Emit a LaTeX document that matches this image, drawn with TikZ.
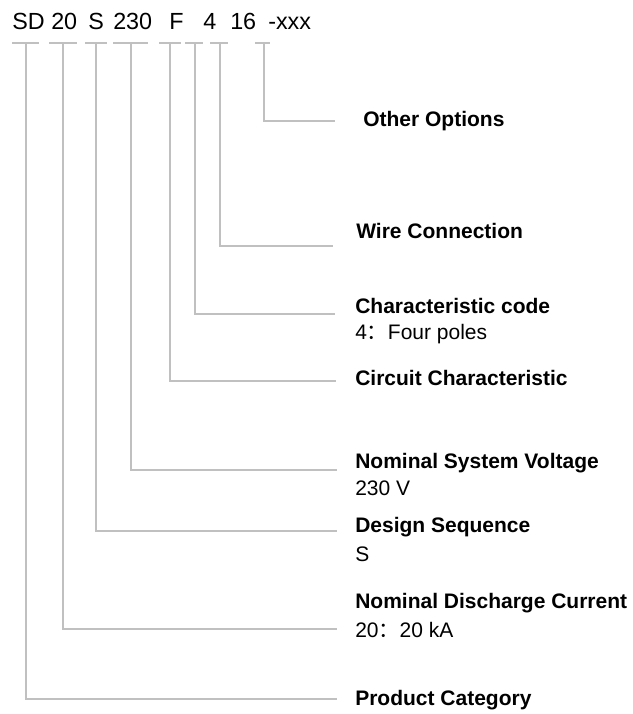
\documentclass[tikz,border=0pt]{standalone}
\usepackage{fontspec}
\setmainfont{Liberation Sans}
\newfontfamily\cjk{Noto Sans CJK SC}
\usetikzlibrary{positioning,calc}
\definecolor{leadgray}{RGB}{192,192,192}
\tikzset{
  code/.style={anchor=base west, inner sep=0pt, font=\fontsize{17.5}{20}\selectfont},
  head/.style={anchor=west, inner sep=0pt, font=\bfseries\fontsize{15.75}{18}\selectfont},
  note/.style={anchor=west, inner sep=0pt, font=\fontsize{15.75}{18}\selectfont},
  lead/.style={draw=leadgray, line width=1.1pt},
}
\newcommand{\wcolon}{{\cjk ：}}

\begin{document}
\begin{tikzpicture}[x=0.75pt,y=-0.75pt]
   \useasboundingbox (0,0) rectangle (632,714);

   % model code
   \node[code] (c1) at (12,29.5)  {SD};
   \node[code] (c2) at (51,29.5)  {20};
   \node[code] (c3) at (88,29.5)  {S};
   \node[code] (c4) at (113,29.5) {230};
   \node[code] (c5) at (169,29.5) {F};
   \node[code] (c6) at (203,29.5) {4};
   \node[code] (c7) at (230,29.5) {16};
   \node[code] (c8) at (268,29.5) {-xxx};

   % tick centres under the code
   \coordinate (t1) at (26,43);
   \coordinate (t2) at (63,43);
   \coordinate (t3) at (96,43);
   \coordinate (t4) at (131,43);
   \coordinate (t5) at (170,43);
   \coordinate (t6) at (195,43);
   \coordinate (t7) at (220,43);
   \coordinate (t8) at (264,43);

   % free ends of the leads
   \coordinate (e1) at (337,699);
   \coordinate (e2) at (337,629);
   \coordinate (e3) at (337,531);
   \coordinate (e4) at (337,470);
   \coordinate (e5) at (336,381);
   \coordinate (e6) at (335,314);
   \coordinate (e7) at (333,246);
   \coordinate (e8) at (335,121);

   % descriptions
   \node[head] (l8) at (363,121) {Other Options};
   \node[head] (l7) at (356,231) {Wire Connection};
   \node[head] (l6) at (355,306) {Characteristic code};
   \node[note, below=15pt of l6.south west, anchor=west] (s6) {4\wcolon Four poles};
   \node[head] (l5) at (355,378) {Circuit Characteristic};
   \node[head] (l4) at (355,463) {Nominal System Voltage};
   \node[note, below=11.5pt of l4.south west, anchor=west] (s4) {230 V};
   \node[head] (l3) at (355,527) {Design Sequence};
   \node[note, below=13pt of l3.south west, anchor=west] (s3) {S};
   \node[head] (l2) at (355,603) {Nominal Discharge Current};
   \node[note, below=13pt of l2.south west, anchor=west] (s2) {20\wcolon 20 kA};
   \node[head] (l1) at (355,700) {Product Category};

   % ticks
   \draw[lead] ($(t1)+(-14,0)$) -- ++(27,0);
   \draw[lead] ($(t2)+(-14,0)$) -- ++(28,0);
   \draw[lead] ($(t3)+(-11,0)$) -- ++(22,0);
   \draw[lead] ($(t4)+(-18,0)$) -- ++(35,0);
   \draw[lead] ($(t5)+(-11,0)$) -- ++(22,0);
   \draw[lead] ($(t6)+(-10,0)$) -- ++(18,0);
   \draw[lead] ($(t7)+(-10,0)$) -- ++(18,0);
   \draw[lead] ($(t8)+(-9,0)$)  -- ++(15,0);

   % leads
   \draw[lead] (t1) |- (e1);
   \draw[lead] (t2) |- (e2);
   \draw[lead] (t3) |- (e3);
   \draw[lead] (t4) |- (e4);
   \draw[lead] (t5) |- (e5);
   \draw[lead] (t6) |- (e6);
   \draw[lead] (t7) |- (e7);
   \draw[lead] (t8) |- (e8);
\end{tikzpicture}
\end{document}
